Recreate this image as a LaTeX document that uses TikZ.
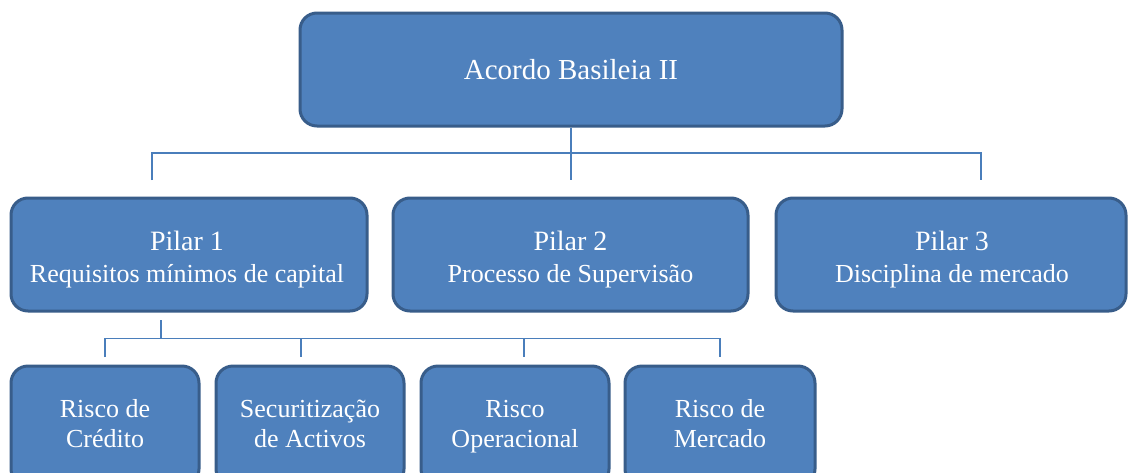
\documentclass[tikz,border=0pt]{standalone}
\usepackage{fontspec}
\setmainfont{Liberation Serif}
\definecolor{boxfill}{HTML}{4F81BD}
\definecolor{boxline}{HTML}{385D8A}
\definecolor{connline}{HTML}{4A7EBB}
\tikzset{
  box/.style={draw=boxline, line width=3pt, fill=boxfill, rounded corners=17pt, inner sep=0pt},
  txt/.style={text=white, anchor=base, inner sep=0pt},
  bigtxt/.style={txt, font=\fontsize{29}{34}\selectfont},
  headtxt/.style={txt, font=\fontsize{28}{32}\selectfont},
  midtxt/.style={txt, font=\fontsize{26}{32}\selectfont},
  conn/.style={draw=connline, line width=1.3pt},
}
\begin{document}
\begin{tikzpicture}[x=1pt,y=-1pt]
\clip (0,0) rectangle (1128,472);
\fill[white] (0,0) rectangle (1128,472);
% top
\node[box, minimum width=542pt, minimum height=113pt] (top) at (571,69.5) {};
\node[bigtxt] (topt) at (571,79) {Acordo Basileia II};
% pillars
\node[box, minimum width=356pt, minimum height=113pt] (p1) at (189,254.5) {};
\node[box, minimum width=355pt, minimum height=113pt] (p2) at (570.5,254.5) {};
\node[box, minimum width=350pt, minimum height=113pt] (p3) at (951,254.5) {};
\node[headtxt] (p1a) at (187,250) {Pilar 1};
\node[midtxt] (p1b) at (187,282) {Requisitos mínimos de capital};
\node[headtxt] (p2a) at (570.5,250) {Pilar 2};
\node[midtxt] (p2b) at (570.5,282) {Processo de Supervisão};
\node[headtxt] (p3a) at (952,250) {Pilar 3};
\node[midtxt] (p3b) at (952,282) {Disciplina de mercado};
% bottom
\node[box, minimum width=188pt, minimum height=120pt] (b1) at (105,426) {};
\node[box, minimum width=188pt, minimum height=120pt] (b2) at (310,426) {};
\node[box, minimum width=188pt, minimum height=120pt] (b3) at (515,426) {};
\node[box, minimum width=190pt, minimum height=120pt] (b4) at (720,426) {};
\node[midtxt] (b1a) at (105,417) {Risco de};
\node[midtxt] (b1b) at (105,447) {Crédito};
\node[midtxt] (b2a) at (310,417) {Securitização};
\node[midtxt] (b2b) at (310,447) {de Activos};
\node[midtxt] (b3a) at (515,417) {Risco};
\node[midtxt] (b3b) at (515,447) {Operacional};
\node[midtxt] (b4a) at (720,417) {Risco de};
\node[midtxt] (b4b) at (720,447) {Mercado};
% top connectors
\coordinate (h1) at (152,153);
\coordinate (h2) at (981,153);
\coordinate (t1) at (152,180);
\coordinate (t2) at (571,180);
\coordinate (t3) at (981,180);
\draw[conn] (top.south) -- (t2);
\draw[conn] (t1) -- (h1) -- (h2) -- (t3);
% pillar 1 connectors
\coordinate (s0) at (161,320);
\coordinate (s1) at (161,338.5);
\coordinate (g1) at (105,338.5);
\coordinate (g2) at (301,338.5);
\coordinate (g3) at (524,338.5);
\coordinate (g4) at (720,338.5);
\coordinate (u1) at (105,357);
\coordinate (u2) at (301,357);
\coordinate (u3) at (524,357);
\coordinate (u4) at (720,357);
\draw[conn] (s0) -- (s1);
\draw[conn] (u1) -- (g1) -- (g4) -- (u4);
\draw[conn] (g2) -- (u2);
\draw[conn] (g3) -- (u3);
\end{tikzpicture}
\end{document}
